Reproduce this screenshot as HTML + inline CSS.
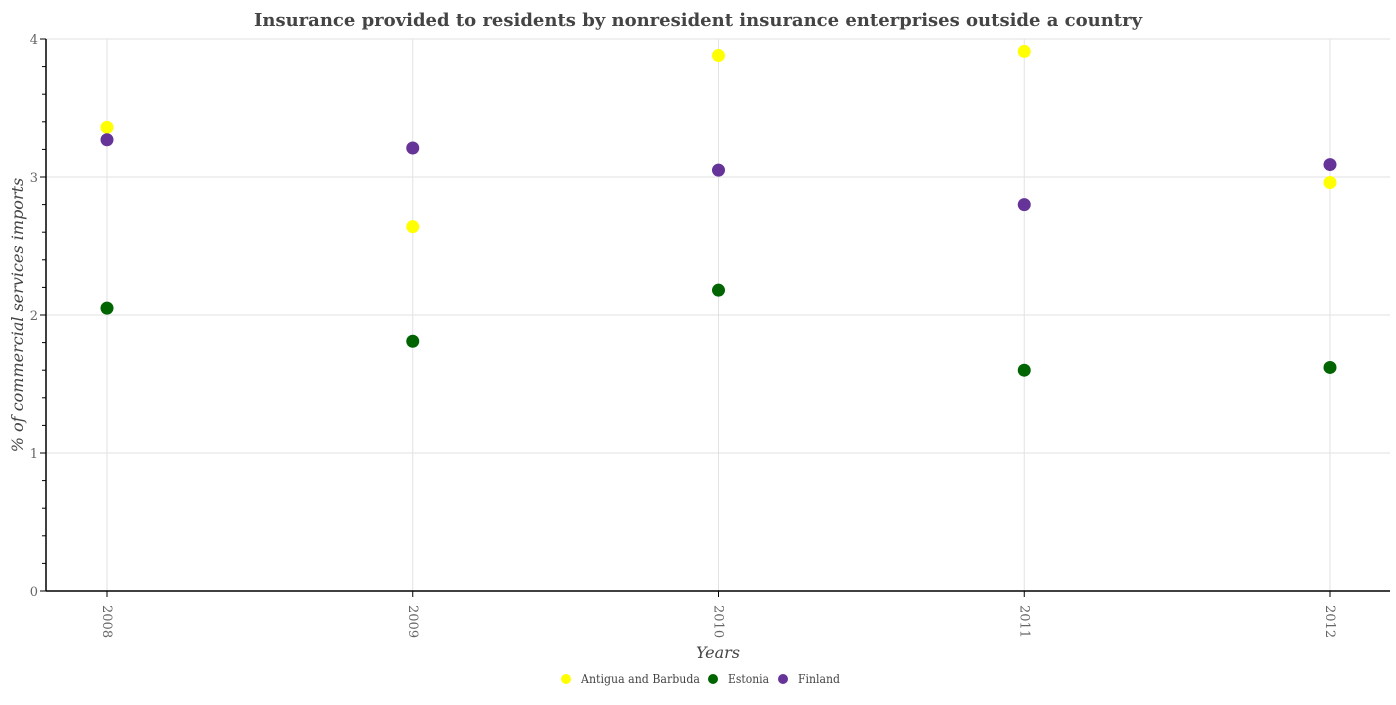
<!DOCTYPE html>
<html><head><meta charset="utf-8"><style>
body{margin:0;background:#fff;}
svg text{font-family:"DejaVu Serif","Liberation Serif",serif;}
</style></head><body>
<svg id="chart" width="1396" height="700" xmlns="http://www.w3.org/2000/svg"></svg>
<script>
const years = ["2008","2009","2010","2011","2012"];
const antigua = [3.36, 2.64, 3.88, 3.91, 2.96];
const estonia = [2.05, 1.81, 2.18, 1.60, 1.62];
const finland = [3.27, 3.21, 3.05, 2.80, 3.09];
const yTicks = [0,1,2,3,4];
const seriesNames = ["Antigua and Barbuda","Estonia","Finland"];

const svg = document.getElementById('chart');
const NS = "http://www.w3.org/2000/svg";
const L=46, R=1390, T=39, B=591;
const x = i => 107 + i*305.75;
const y = v => B - v*(B-T)/4;
function add(tag, attrs, parent){const e=document.createElementNS(NS,tag);for(const k in attrs)e.setAttribute(k,attrs[k]);(parent||svg).appendChild(e);return e;}

let t=add('text',{x:698,y:26,'text-anchor':'middle','font-size':18,'font-weight':'bold',fill:'#444'});
t.textContent="Insurance provided to residents by nonresident insurance enterprises outside a country";



yTicks.forEach(v=>{
  const g=add('line',{x1:L,x2:R,y1:y(v),y2:y(v),stroke:'#e2e2e2'});
  
  
  const lb=add('text',{x:L-8,y:y(v)+5,'text-anchor':'end','font-size':13,fill:'#666'});
  lb.textContent=v;
  
  
  add('line',{x1:L-6,x2:L,y1:y(v),y2:y(v),stroke:'#000'});
});
for(let v=0.2;v<4;v+=0.2){add('line',{x1:L-4,x2:L,y1:y(v),y2:y(v),stroke:'#000'});}
years.forEach((yr,i)=>{
  const g=add('line',{x1:x(i),x2:x(i),y1:T,y2:B,stroke:'#e2e2e2'});
  
  
  add('line',{x1:x(i),x2:x(i),y1:B,y2:B+6,stroke:'#000'});
  const lb=add('text',{x:0,y:0,'font-size':13,fill:'#666',transform:`translate(${x(i)-4},${B+14}) rotate(90)`});
  lb.textContent=yr;
  
  
});
add('line',{x1:L,x2:L,y1:T,y2:B,stroke:'#000','stroke-width':1.5});
add('line',{x1:L,x2:R,y1:B,y2:B,stroke:'#000','stroke-width':1.5});

let xt=add('text',{x:718,y:658,'text-anchor':'middle','font-size':16,'font-style':'italic',fill:'#444'});
xt.textContent="Years";


let yt=add('text',{x:0,y:0,'text-anchor':'middle','font-size':16,'font-style':'italic',fill:'#444',transform:`translate(23,${(T+B)/2}) rotate(-90)`});
yt.textContent="% of commercial services imports";



const colors=['#ffff00','#006400','#663399'];
[antigua,estonia,finland].forEach((s,k)=>{
  s.forEach((v,i)=>{
    const c=add('circle',{cx:x(i),cy:y(v),r:6.5,fill:colors[k]});
    
    
  });
});

const lx=[566,713,783], tw=[119,41,42];
seriesNames.forEach((n,k)=>{
  const g=add('g',{});
  
  
  add('circle',{cx:lx[k],cy:679,r:5,fill:colors[k]},g);
  const tt=add('text',{x:lx[k]+15,y:683,'font-size':12,fill:'#444',textLength:tw[k],lengthAdjust:'spacingAndGlyphs'},g);
  tt.textContent=n;
});
</script>
</body></html>
